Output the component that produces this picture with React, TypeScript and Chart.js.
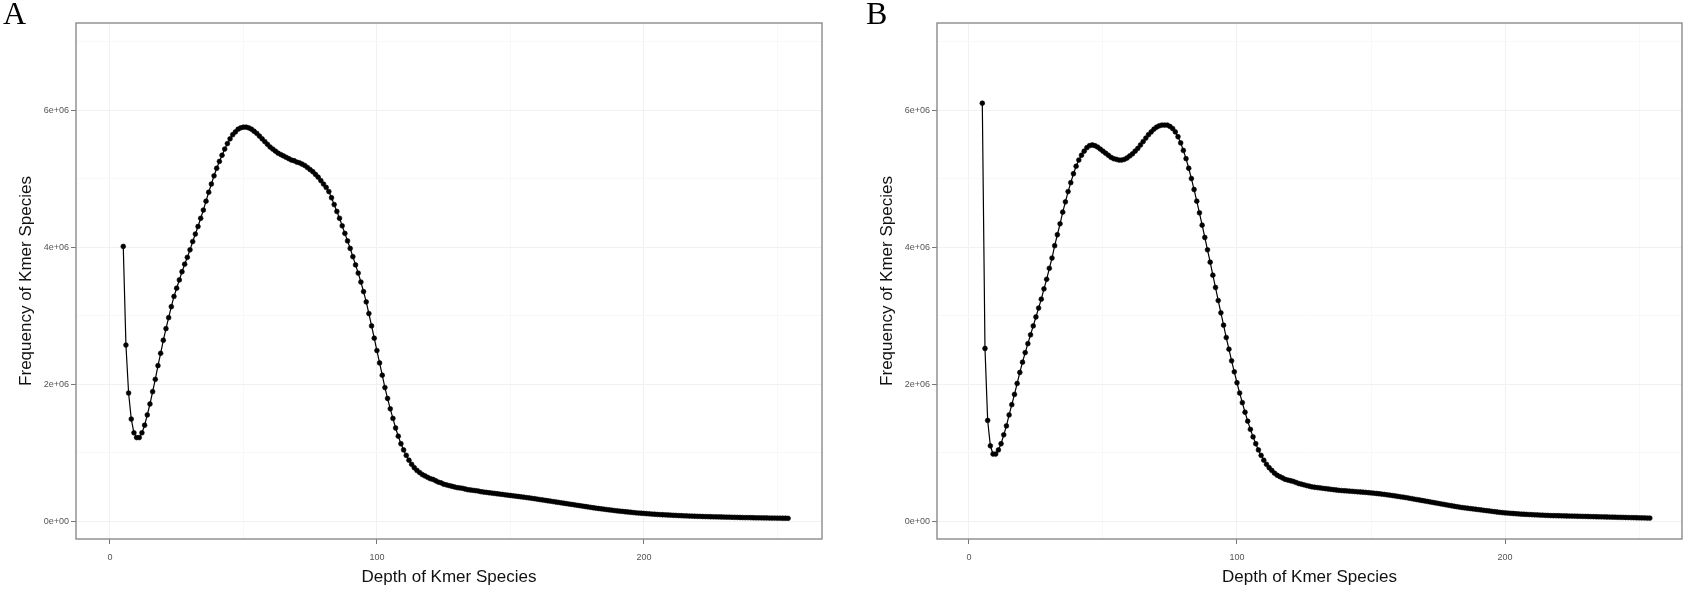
import React, { useEffect, useRef } from "react";
import { Chart, registerables } from "chart.js";

Chart.register(...registerables);

// ---- data (frequency values in millions, one value per integer depth starting at DEPTH_START) ----
const DEPTH_START = 5;

const FREQ_A_MILLIONS = [
  4.01, 2.57, 1.87, 1.49, 1.29, 1.22, 1.22, 1.29, 1.40, 1.55,
  1.71, 1.89, 2.07, 2.27, 2.45, 2.64, 2.81, 2.97, 3.13, 3.28,
  3.40, 3.52, 3.64, 3.75, 3.85, 3.96, 4.08, 4.19, 4.30, 4.42,
  4.54, 4.67, 4.80, 4.92, 5.04, 5.15, 5.25, 5.34, 5.43, 5.51,
  5.58, 5.64, 5.68, 5.72, 5.74, 5.75, 5.75, 5.74, 5.72, 5.69,
  5.66, 5.62, 5.58, 5.54, 5.50, 5.46, 5.43, 5.40, 5.37, 5.35,
  5.33, 5.31, 5.29, 5.27, 5.26, 5.24, 5.23, 5.21, 5.19, 5.16,
  5.13, 5.10, 5.06, 5.02, 4.97, 4.92, 4.87, 4.81, 4.72, 4.62,
  4.52, 4.42, 4.31, 4.20, 4.09, 3.98, 3.86, 3.74, 3.62, 3.49,
  3.35, 3.20, 3.03, 2.85, 2.67, 2.49, 2.31, 2.13, 1.95, 1.79,
  1.64, 1.50, 1.36, 1.24, 1.13, 1.04, 0.96, 0.89, 0.83, 0.78,
  0.74, 0.71, 0.68, 0.66, 0.64, 0.62, 0.61, 0.59, 0.57, 0.56,
  0.54, 0.53, 0.52, 0.51, 0.50, 0.49, 0.485, 0.48, 0.47, 0.46,
  0.455, 0.45, 0.445, 0.44, 0.43, 0.425, 0.42, 0.415, 0.41, 0.405,
  0.40, 0.395, 0.39, 0.385, 0.38, 0.375, 0.37, 0.365, 0.36, 0.355,
  0.35, 0.345, 0.34, 0.334, 0.328, 0.322, 0.316, 0.31, 0.304, 0.298,
  0.292, 0.286, 0.28, 0.274, 0.268, 0.262, 0.256, 0.25, 0.244, 0.238,
  0.232, 0.226, 0.22, 0.214, 0.208, 0.202, 0.196, 0.19, 0.185, 0.18,
  0.175, 0.17, 0.165, 0.16, 0.155, 0.15, 0.146, 0.142, 0.138, 0.134,
  0.13, 0.126, 0.122, 0.119, 0.116, 0.113, 0.110, 0.107, 0.104, 0.101,
  0.098, 0.096, 0.094, 0.092, 0.090, 0.088, 0.086, 0.084, 0.082, 0.080,
  0.078, 0.077, 0.075, 0.074, 0.072, 0.071, 0.070, 0.068, 0.067, 0.066,
  0.065, 0.064, 0.063, 0.062, 0.061, 0.060, 0.059, 0.058, 0.057, 0.056,
  0.055, 0.054, 0.053, 0.052, 0.052, 0.051, 0.050, 0.049, 0.049, 0.048,
  0.047, 0.047, 0.046, 0.045, 0.045, 0.044, 0.044, 0.043, 0.043, 0.042,
];

const FREQ_B_MILLIONS = [
  6.10, 2.52, 1.47, 1.10, 0.98, 0.98, 1.04, 1.13, 1.26, 1.39,
  1.55, 1.70, 1.85, 2.01, 2.17, 2.32, 2.46, 2.59, 2.72, 2.85,
  2.98, 3.11, 3.24, 3.39, 3.53, 3.69, 3.84, 4.02, 4.18, 4.34,
  4.51, 4.66, 4.81, 4.94, 5.07, 5.18, 5.27, 5.34, 5.40, 5.45,
  5.48, 5.49, 5.48, 5.46, 5.43, 5.40, 5.37, 5.34, 5.31, 5.29,
  5.28, 5.27, 5.27, 5.28, 5.30, 5.33, 5.36, 5.40, 5.44, 5.49,
  5.54, 5.59, 5.64, 5.68, 5.72, 5.75, 5.77, 5.78, 5.78, 5.78,
  5.76, 5.73, 5.68, 5.61, 5.52, 5.41, 5.29, 5.15, 5.00, 4.84,
  4.67, 4.50, 4.32, 4.14, 3.96, 3.78, 3.59, 3.41, 3.22, 3.04,
  2.86, 2.68, 2.51, 2.34, 2.18, 2.02, 1.87, 1.73, 1.59, 1.46,
  1.34, 1.23, 1.13, 1.04, 0.96, 0.89, 0.83, 0.78, 0.74, 0.70,
  0.67, 0.65, 0.63, 0.61, 0.60, 0.59, 0.58, 0.565, 0.55, 0.54,
  0.53, 0.52, 0.51, 0.50, 0.495, 0.49, 0.485, 0.48, 0.475, 0.47,
  0.465, 0.46, 0.455, 0.45, 0.447, 0.444, 0.441, 0.438, 0.435, 0.432,
  0.429, 0.426, 0.423, 0.42, 0.416, 0.412, 0.408, 0.404, 0.40, 0.395,
  0.39, 0.385, 0.38, 0.374, 0.368, 0.362, 0.356, 0.35, 0.344, 0.337,
  0.33, 0.323, 0.316, 0.309, 0.302, 0.295, 0.288, 0.281, 0.274, 0.267,
  0.26, 0.253, 0.246, 0.239, 0.232, 0.225, 0.218, 0.211, 0.205, 0.199,
  0.194, 0.189, 0.184, 0.179, 0.174, 0.169, 0.164, 0.159, 0.154, 0.149,
  0.144, 0.139, 0.134, 0.129, 0.125, 0.121, 0.118, 0.115, 0.112, 0.109,
  0.106, 0.103, 0.101, 0.099, 0.097, 0.095, 0.093, 0.091, 0.089, 0.087,
  0.085, 0.084, 0.082, 0.081, 0.080, 0.079, 0.078, 0.077, 0.076, 0.075,
  0.074, 0.073, 0.072, 0.071, 0.070, 0.069, 0.068, 0.067, 0.066, 0.065,
  0.064, 0.063, 0.062, 0.061, 0.060, 0.059, 0.058, 0.057, 0.056, 0.055,
  0.054, 0.053, 0.052, 0.051, 0.050, 0.049, 0.048, 0.047, 0.046, 0.045,
];

const X_MAJOR_TICKS = [0, 100, 200];
const X_TICK_LABELS = ["0", "100", "200"];
const X_MINOR_TICKS = [50, 150, 250];
const Y_MAJOR_TICKS = [0, 2e6, 4e6, 6e6];
const Y_TICK_LABELS = ["0e+00", "2e+06", "4e+06", "6e+06"];
const Y_MINOR_TICKS = [1e6, 3e6, 5e6, 7e6];
const X_TITLE = "Depth of Kmer Species";
const Y_TITLE = "Frequency of Kmer Species";
const PANEL_LABELS = ["A", "B"];

const SANS = '"Liberation Sans", Arial, sans-serif';
const SERIF = '"Liberation Serif", "Times New Roman", serif';

type Panel = {
  label: string;
  values: number[];
  canvasLeft: number;
  canvasWidth: number;
  yAxisWidth: number;
  padRight: number;
  xMin: number;
  xMax: number;
  yTitlePad: number;
  labelX: number;
};

const PANELS: Panel[] = [
  {
    label: PANEL_LABELS[0],
    values: FREQ_A_MILLIONS,
    canvasLeft: 0,
    canvasWidth: 840,
    yAxisWidth: 76,
    padRight: 18,
    xMin: -12.7,
    xMax: 266.7,
    yTitlePad: 16,
    labelX: 3,
  },
  {
    label: PANEL_LABELS[1],
    values: FREQ_B_MILLIONS,
    canvasLeft: 840,
    canvasWidth: 847,
    yAxisWidth: 97,
    padRight: 5,
    xMin: -11.9,
    xMax: 266.0,
    yTitlePad: 37,
    labelX: 26,
  },
];

const HEIGHT = 590;

function makeChart(canvas: HTMLCanvasElement, p: Panel) {
  const points = p.values.map((v, i) => ({ x: DEPTH_START + i, y: v * 1e6 }));
  const xAll = [...X_MAJOR_TICKS, ...X_MINOR_TICKS].sort((a, b) => a - b);
  const yAll = [...Y_MAJOR_TICKS, ...Y_MINOR_TICKS].sort((a, b) => a - b);
  const isXMajor = (v: number) => X_MAJOR_TICKS.indexOf(v) >= 0;
  const isYMajor = (v: number) => Y_MAJOR_TICKS.indexOf(v) >= 0;

  const framePlugin = {
    id: "frame" + p.label,
    afterDatasetsDraw(chart: any) {
      const { ctx, chartArea } = chart;
      const { left, top, right, bottom } = chartArea;
      ctx.save();
      ctx.strokeStyle = "#8a8a8a";
      ctx.lineWidth = 1.4;
      ctx.strokeRect(left, top, right - left, bottom - top);
      ctx.restore();
    },
    afterDraw(chart: any) {
      const { ctx } = chart;
      ctx.save();
      ctx.fillStyle = "#000";
      ctx.font = "32px " + SERIF;
      ctx.textBaseline = "alphabetic";
      ctx.textAlign = "left";
      ctx.fillText(p.label, p.labelX, 24);
      ctx.restore();
    },
  };

  return new Chart(canvas, {
    type: "line",
    data: {
      datasets: [
        {
          data: points,
          borderColor: "#000",
          borderWidth: 1.2,
          pointRadius: 2.4,
          pointBorderWidth: 0.6,
          pointBackgroundColor: "#000",
          pointBorderColor: "#000",
          tension: 0,
          fill: false,
        },
      ],
    },
    options: {
      animation: false,
      responsive: false,
      devicePixelRatio: 1,
      layout: { padding: { top: 23, right: p.padRight, bottom: 0, left: 0 } },
      plugins: { legend: { display: false }, tooltip: { enabled: false } },
      scales: {
        x: {
          type: "linear",
          min: p.xMin,
          max: p.xMax,
          afterBuildTicks: (s: any) => {
            s.ticks = xAll.map((v) => ({ value: v }));
          },
          afterFit: (s: any) => {
            s.height = 51;
          },
          border: { display: false },
          grid: {
            color: (c: any) => (isXMajor(c.tick?.value) ? "#f1f1f1" : "#f8f8f8"),
            lineWidth: 1,
            tickLength: 5,
            tickColor: (c: any) => (isXMajor(c.tick?.value) ? "#777" : "rgba(0,0,0,0)"),
          },
          ticks: {
            autoSkip: false,
            maxRotation: 0,
            padding: 8,
            color: "#555",
            font: { family: SANS, size: 9 },
            callback: (v: any) => {
              const i = X_MAJOR_TICKS.indexOf(Number(v));
              return i >= 0 ? X_TICK_LABELS[i] : "";
            },
          },
          title: {
            display: true,
            text: X_TITLE,
            color: "#111",
            font: { family: SANS, size: 17 },
            padding: { top: 0, bottom: 2 },
          },
        },
        y: {
          type: "linear",
          min: -0.26e6,
          max: 7.27e6,
          afterBuildTicks: (s: any) => {
            s.ticks = yAll.map((v) => ({ value: v }));
          },
          afterFit: (s: any) => {
            s.width = p.yAxisWidth;
          },
          border: { display: false },
          grid: {
            color: (c: any) => (isYMajor(c.tick?.value) ? "#f1f1f1" : "#f8f8f8"),
            lineWidth: 1,
            tickLength: 5,
            tickColor: (c: any) => (isYMajor(c.tick?.value) ? "#777" : "rgba(0,0,0,0)"),
          },
          ticks: {
            autoSkip: false,
            padding: 2,
            color: "#555",
            font: { family: SANS, size: 9 },
            callback: (v: any) => {
              const i = Y_MAJOR_TICKS.indexOf(Number(v));
              return i >= 0 ? Y_TICK_LABELS[i] : "";
            },
          },
          title: {
            display: true,
            text: Y_TITLE,
            color: "#111",
            font: { family: SANS, size: 17 },
            padding: { top: p.yTitlePad, bottom: 0 },
          },
        },
      },
    },
    plugins: [framePlugin],
  } as any);
}

function PanelChart({ panel }: { panel: Panel }) {
  const ref = useRef<HTMLCanvasElement | null>(null);
  useEffect(() => {
    if (!ref.current) return;
    const chart = makeChart(ref.current, panel);
    return () => chart.destroy();
  }, [panel]);
  return (
    <canvas
      ref={ref}
      width={panel.canvasWidth}
      height={HEIGHT}
      style={{
        position: "absolute",
        left: panel.canvasLeft,
        top: 0,
        width: panel.canvasWidth,
        height: HEIGHT,
      }}
    />
  );
}

export default function App() {
  return (
    <div
      style={{
        position: "absolute",
        left: 0,
        top: 0,
        width: 1687,
        height: HEIGHT,
        background: "#fff",
        overflow: "hidden",
      }}
    >
      {PANELS.map((p) => (
        <PanelChart key={p.label} panel={p} />
      ))}
    </div>
  );
}
